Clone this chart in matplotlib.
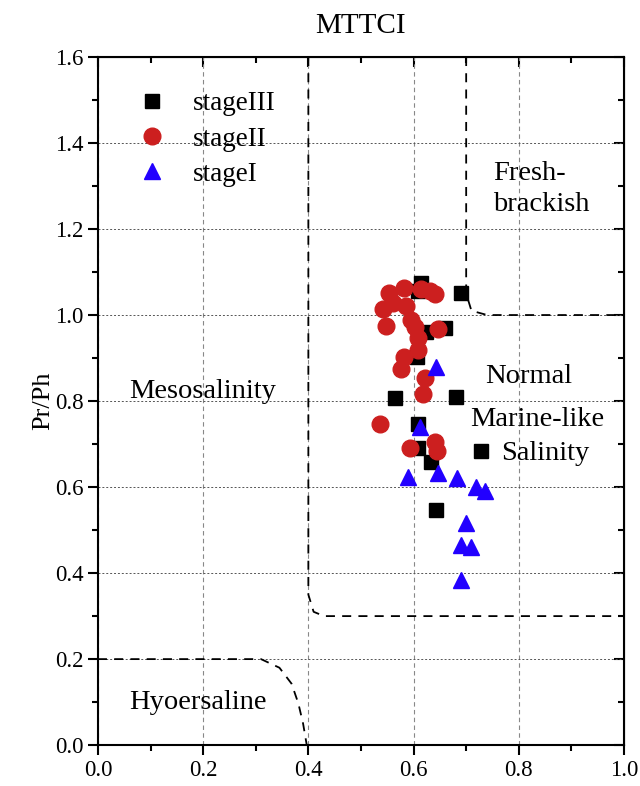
import matplotlib.pyplot as plt
import numpy as np

plt.rcParams['font.family'] = ['Liberation Serif', 'DejaVu Serif']

# stage III (black squares)
s3_x = [0.615, 0.609, 0.691, 0.660, 0.624, 0.606, 0.565, 0.681, 0.609, 0.609, 0.729, 0.633, 0.643]
s3_y = [1.074, 1.057, 1.052, 0.971, 0.961, 0.902, 0.806, 0.810, 0.747, 0.692, 0.684, 0.659, 0.547]

# stage II (red circles)
s2_x = [0.554, 0.582, 0.615, 0.631, 0.641, 0.561, 0.541, 0.586, 0.548, 0.596,
        0.603, 0.647, 0.609, 0.609, 0.582, 0.577, 0.622, 0.617, 0.537, 0.594,
        0.641, 0.645]
s2_y = [1.052, 1.064, 1.060, 1.057, 1.049, 1.027, 1.013, 1.021, 0.974, 0.988,
        0.973, 0.967, 0.946, 0.919, 0.902, 0.874, 0.853, 0.816, 0.747, 0.690,
        0.705, 0.684]

# stage I (blue triangles)
s1_x = [0.643, 0.613, 0.590, 0.646, 0.683, 0.719, 0.736, 0.699, 0.690, 0.709, 0.690]
s1_y = [0.880, 0.740, 0.624, 0.633, 0.620, 0.601, 0.591, 0.517, 0.465, 0.461, 0.385]

# boundary lines
fresh_x = [0.70, 0.70, 0.71, 0.74, 1.00]
fresh_y = [1.60, 1.05, 1.01, 1.00, 1.00]
meso_x = [0.40, 0.40, 0.41, 0.43, 1.00]
meso_y = [1.60, 0.35, 0.31, 0.30, 0.30]
hyper_x = [0.00, 0.31, 0.345, 0.368, 0.381, 0.390, 0.397]
hyper_y = [0.20, 0.20, 0.180, 0.143, 0.097, 0.050, 0.000]

fig = plt.figure(figsize=(6.4, 7.86), dpi=100)
ax = fig.add_axes([0.153, 0.052, 0.822, 0.8755])

ax.plot(fresh_x, fresh_y, 'k--', lw=1.3, dashes=(5, 4))
ax.plot(meso_x, meso_y, 'k--', lw=1.3, dashes=(5, 4))
ax.plot(hyper_x, hyper_y, 'k--', lw=1.3, dashes=(5, 4))

ax.plot(s3_x, s3_y, 's', color='black', ms=10, ls='none', label='stageIII', zorder=3)
ax.plot(s2_x, s2_y, 'o', color='#cc1f1f', ms=12, ls='none', label='stageII', zorder=3)
ax.plot(s1_x, s1_y, '^', color='#2200ff', ms=11.5, ls='none', label='stageI', zorder=3)

ax.set_xlim(0, 1.0)
ax.set_ylim(0, 1.6)
ax.set_xticks(np.arange(0, 1.01, 0.2))
ax.set_yticks(np.arange(0, 1.61, 0.2))
ax.set_xticks(np.arange(0.1, 1.0, 0.2), minor=True)
ax.set_yticks(np.arange(0.1, 1.6, 0.2), minor=True)
ax.xaxis.set_major_formatter(plt.FormatStrFormatter('%.1f'))
ax.yaxis.set_major_formatter(plt.FormatStrFormatter('%.1f'))
ax.grid(True, which='major', axis='x', ls=(0, (4, 3)), color='#888888', lw=0.8)
ax.grid(True, which='major', axis='y', ls=(0, (2, 2)), color='#555555', lw=0.7)
ax.set_axisbelow(True)

ax.tick_params(which='major', direction='out', length=7, width=1.5, labelsize=16.5)
ax.tick_params(which='minor', direction='out', length=4.5, width=1.5)
for sp in ax.spines.values():
    sp.set_linewidth(1.5)

top = ax.secondary_xaxis('top')
top.set_xticks(np.arange(0, 1.01, 0.2))
top.set_xticks(np.arange(0.1, 1.0, 0.2), minor=True)
top.tick_params(which='major', direction='in', length=7, width=1.5, labeltop=False)
top.tick_params(which='minor', direction='in', length=4.5, width=1.5)
right = ax.secondary_yaxis('right')
right.set_yticks(np.arange(0, 1.61, 0.2))
right.set_yticks(np.arange(0.1, 1.6, 0.2), minor=True)
right.tick_params(which='major', direction='in', length=7, width=1.5, labelright=False)
right.tick_params(which='minor', direction='in', length=4.5, width=1.5)

ax.set_ylabel('Pr/Ph', fontsize=19, labelpad=0)
ax.set_title('MTTCI', fontsize=21, pad=17)

fs = 20.5
ax.text(0.751, 1.328, 'Fresh-', fontsize=fs, ha='left', va='center')
ax.text(0.751, 1.256, 'brackish', fontsize=fs, ha='left', va='center')
ax.text(0.818, 0.858, 'Normal', fontsize=fs, ha='center', va='center')
ax.text(0.835, 0.758, 'Marine-like', fontsize=fs, ha='center', va='center')
ax.text(0.850, 0.679, 'Salinity', fontsize=fs, ha='center', va='center')
ax.text(0.199, 0.823, 'Mesosalinity', fontsize=fs, ha='center', va='center')
ax.text(0.190, 0.098, 'Hyoersaline', fontsize=fs, ha='center', va='center')

ax.legend(loc='upper left', bbox_to_anchor=(0.056, 0.966), frameon=False,
          fontsize=19.5, handletextpad=1.0, labelspacing=0.38, handlelength=1.0,
          borderaxespad=0)

fig.savefig('out.png', dpi=100)
